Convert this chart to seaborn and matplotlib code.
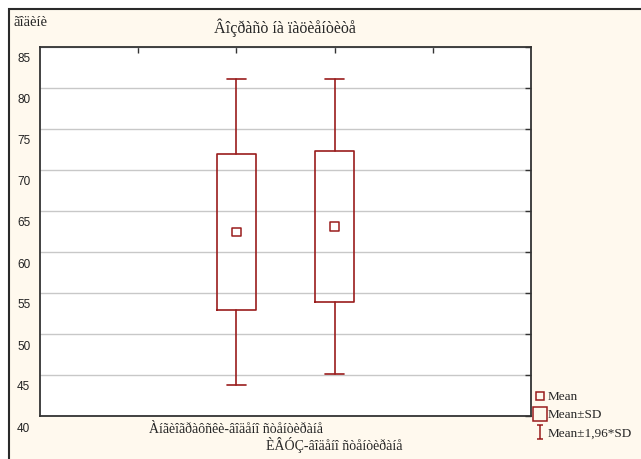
import numpy as np
import matplotlib
matplotlib.use("Agg")
import matplotlib.pyplot as plt
import seaborn as sns
from matplotlib.lines import Line2D
from matplotlib.path import Path
from matplotlib.patches import Rectangle
from matplotlib.transforms import ScaledTranslation

# ---- data ----
categories = ["Àíãèîãðàôñêè-âîäåíî ñòåíòèðàíå", "ÈÂÓÇ-âîäåíî ñòåíòèðàíå"]
means = [62.45, 63.1]
sds = [9.5, 9.2]
yticks = [40, 45, 50, 55, 60, 65, 70, 75, 80, 85]
title = "Âîçðàñò íà ïàöèåíòèòå"
ylabel = "ãîäèíè"
legend_labels = ["Mean", "Mean±SD", "Mean±1,96*SD"]

sns.set_style("white")
plt.rcParams["font.family"] = ["Liberation Serif", "DejaVu Serif"]

RED = "#9A1C1C"
CREAM = "#FFF9EE"

W, H = 641, 459
fig = plt.figure(figsize=(W / 100, H / 100), dpi=100)
fig.patch.set_facecolor("white")
frame = Rectangle((9 / W, -0.05), 1.1, 1 - 9 / H + 0.05, transform=fig.transFigure,
                  facecolor=CREAM, edgecolor="#2a2a2a", linewidth=1.5, zorder=-10)
fig.patches.append(frame)

ax = fig.add_axes([40 / W, 1 - 416 / H, (531 - 40) / W, (416 - 47) / H])
ax.set_facecolor("white")

positions = [2, 3]
stats = []
for m, s in zip(means, sds):
    stats.append(dict(med=m, q1=m - s, q3=m + s, whislo=m - 1.96 * s,
                      whishi=m + 1.96 * s, mean=m, fliers=[]))
ax.bxp(stats, positions=positions, widths=0.4, capwidths=0.2, showmeans=False,
       showfliers=False,
       boxprops=dict(color=RED, linewidth=1.2),
       whiskerprops=dict(color=RED, linewidth=1.2),
       capprops=dict(color=RED, linewidth=1.2),
       medianprops=dict(linewidth=0))
sns.scatterplot(x=positions, y=means, marker="s", s=36, facecolor="none",
                edgecolor=RED, linewidth=1.1, ax=ax, zorder=5)

ax.set_xlim(0, 5)
ax.set_ylim(40, 85)
ax.set_yticks(yticks)
ax.set_yticklabels([str(v) for v in yticks], family=["Liberation Sans", "DejaVu Sans"],
                   fontsize=8.5, color="#222222")
ax.set_xticks([1, 2, 3, 4])
ax.set_xticklabels(["", categories[0], categories[1], ""], fontsize=10)
ax.tick_params(axis="both", direction="in", length=4, width=1, color="#333333",
               top=True, right=True)
ax.tick_params(axis="y", pad=7)
ax.tick_params(axis="x", pad=5)
for lab in ax.get_yticklabels():
    lab.set_transform(lab.get_transform() + ScaledTranslation(0, -0.11, fig.dpi_scale_trans))
xl = ax.get_xticklabels()
xl[2].set_transform(xl[2].get_transform() + ScaledTranslation(0, -0.14, fig.dpi_scale_trans))

ax.yaxis.grid(True, color="#c8c8c8", linewidth=1)
ax.xaxis.grid(False)
ax.set_axisbelow(True)
for sp in ax.spines.values():
    sp.set_color("#333333")
    sp.set_linewidth(1.3)

fig.text(285 / W, 1 - 28 / H, title, ha="center", va="center", fontsize=11.5)
fig.text(14 / W, 1 - 23 / H, ylabel, ha="left", va="center", fontsize=10.5)

ibeam = Path([(-0.5, 1), (0.5, 1), (0, 1), (0, -1), (-0.5, -1), (0.5, -1)],
             [Path.MOVETO, Path.LINETO, Path.MOVETO, Path.LINETO, Path.MOVETO, Path.LINETO])
handles = [
    Line2D([], [], linestyle="none", marker="s", markersize=6, markerfacecolor="none",
           markeredgecolor=RED, markeredgewidth=1.1),
    Line2D([], [], linestyle="none", marker="s", markersize=9.5, markerfacecolor="none",
           markeredgecolor=RED, markeredgewidth=1.1),
    Line2D([], [], linestyle="none", marker=ibeam, markersize=9.5, markerfacecolor="none",
           markeredgecolor=RED, markeredgewidth=1.1),
]
fig.legend(handles, legend_labels, loc="upper left", bbox_to_anchor=(534 / W, 1 - 391 / H),
           frameon=False, fontsize=9.5, handlelength=0.9, handletextpad=0.15,
           labelspacing=0.45, borderpad=0, borderaxespad=0)

fig.savefig("out.png", dpi=100, facecolor=fig.get_facecolor())
